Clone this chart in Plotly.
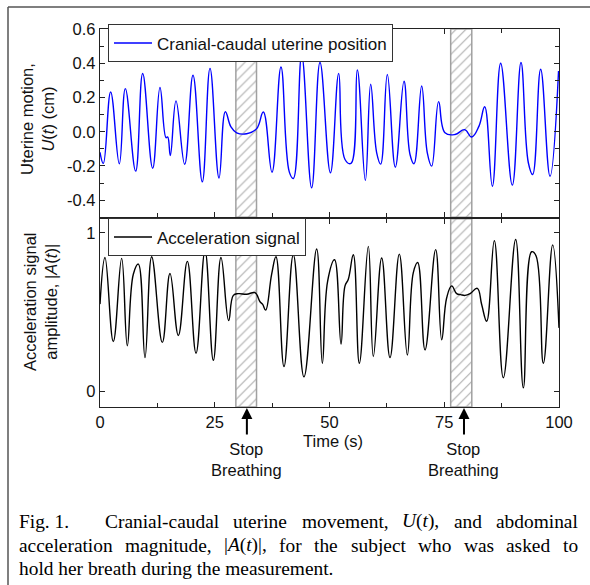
import re
import plotly.graph_objects as go

# uterine position U(t) in cm, read at peaks/troughs
u_time = [0.0, 0.73, 2.32, 4.21, 5.52, 7.77, 9.30, 11.47, 13.07, 14.38, 14.74, 15.32,
          16.56, 18.45, 20.26, 22.29, 23.97, 25.93, 27.31, 28.5, 29.77, 31.95, 34.13,
          35.58, 37.47, 39.43, 41.25, 42.12, 43.94, 46.11, 47.93, 50.2, 52.0, 53.38,
          54.68, 56.06, 57.81, 58.97, 60.28, 61.15, 62.6, 64.34, 66.23, 67.54, 68.41,
          70.08, 71.31, 72.26, 73.78, 75.16, 77.34, 79.45, 80.97, 82.57, 83.81, 85.48,
          87.29, 89.83, 91.72, 93.32, 94.26, 96.0, 98.04, 99.9]
u_value = [-0.12, -0.185, 0.232, -0.187, 0.252, -0.23, 0.34, -0.213, 0.258, -0.035, -0.03, -0.139,
           0.18, -0.19, 0.33, -0.293, 0.37, -0.27, 0.117, 0.03, -0.006, -0.012, 0.018,
           0.115, -0.236, 0.378, -0.236, -0.273, 0.447, -0.328, 0.404, -0.24, 0.341, -0.162,
           -0.185, 0.361, -0.285, 0.277, -0.123, -0.189, 0.334, -0.207, 0.295, -0.133, -0.187,
           0.267, -0.123, -0.201, 0.176, -0.006, -0.016, 0.012, -0.031, 0.033, 0.146, -0.318,
           0.4, -0.312, 0.404, -0.181, -0.25, 0.365, -0.26, 0.355]

# acceleration magnitude |A(t)|
a_time = [0.0, 1.09, 2.9, 4.72, 5.95, 7.26, 8.35, 9.8, 11.26, 13.58, 15.25, 17.07, 19.03,
          20.92, 22.88, 24.69, 26.36, 28.03, 29.05, 30.14, 31.95, 33.77, 34.86, 35.44,
          36.09, 37.4, 38.34, 40.09, 42.12, 44.44, 47.2, 48.44, 49.6, 51.1, 52.51, 53.38,
          54.1, 55.19, 56.5, 58.46, 59.55, 61.37, 63.18, 65.21, 66.96, 68.26, 69.21,
          70.81, 73.13, 74.44, 75.53, 76.62, 77.71, 78.58, 79.52, 80.61, 82.2, 83.15,
          84.24, 85.91, 87.87, 90.56, 92.23, 94.04, 94.99, 96.59, 98.62, 100.0]
a_value = [0.55, 0.845, 0.314, 0.839, 0.287, 0.739, 0.803, 0.212, 0.849, 0.308, 0.743, 0.352, 0.82,
           0.24, 0.887, 0.195, 0.845, 0.446, 0.605, 0.616, 0.612, 0.622, 0.565, 0.548,
           0.512, 0.739, 0.849, 0.155, 0.862, 0.091, 0.898, 0.176, 0.696, 0.83, 0.297, 0.665,
           0.707, 0.862, 0.176, 0.915, 0.219, 0.841, 0.212, 0.866, 0.229, 0.749, 0.813,
           0.261, 0.894, 0.325, 0.59, 0.665, 0.616, 0.61, 0.605, 0.616, 0.65, 0.548,
           0.442, 0.951, 0.085, 0.958, 0.021, 0.881, 0.856, 0.176, 0.924, 0.4]

# breath-hold intervals (s)
stop_start = [29.6, 76.4]
stop_end = [34.1, 81.0]
arrow_time = [32.0, 79.3]

u_range = [-0.5, 0.6]
a_range = [-0.1, 1.09]
u_ticks = [-0.4, -0.2, 0.0, 0.2, 0.4, 0.6]
u_ticktext = ["-0.4", "-0.2", "0.0", "0.2", "0.4", "0.6"]
a_ticks = [0, 1]
x_ticks = [0, 25, 50, 75, 100]

caption_lines = [
    ["Cranial-caudal", "uterine", "movement,", "<i>U</i>(<i>t</i>),", "and", "abdominal"],
    ["acceleration", "magnitude,", "|<i>A</i>(<i>t</i>)|,", "for", "the", "subject", "who", "was", "asked", "to"],
    ["hold her breath during the measurement."],
]

FONT = "Liberation Sans, Arial, sans-serif"
SERIF = "Liberation Serif, Times New Roman, serif"
FS = 16.5
CAP_FS = 19.4

fig = go.Figure()

# hatched breath-hold bands in both panels
for s, e in zip(stop_start, stop_end):
    for ya, rng in (("y", u_range), ("y2", a_range)):
        fig.add_trace(go.Scatter(
            x=[s, e, e, s, s], y=[rng[0], rng[0], rng[1], rng[1], rng[0]],
            xaxis="x" if ya == "y" else "x2", yaxis=ya,
            mode="lines", fill="toself", fillcolor="white",
            fillpattern=dict(shape="/", size=7, solidity=0.15, fgcolor="#555", bgcolor="white"),
            line=dict(color="#a0a0a0", width=1.5),
            showlegend=False, hoverinfo="skip"))

fig.add_trace(go.Scatter(x=u_time, y=u_value, mode="lines", line=dict(color="#0000ff", width=1.4, shape="spline", smoothing=1.2),
                         name="Cranial-caudal uterine position", xaxis="x", yaxis="y", legend="legend"))
fig.add_trace(go.Scatter(x=a_time, y=a_value, mode="lines", line=dict(color="black", width=1.4, shape="spline", smoothing=1.2),
                         name="Acceleration signal", xaxis="x2", yaxis="y2", legend="legend2"))

LW = 1.3
axis_common = dict(showline=True, linecolor="#222", linewidth=LW, mirror="ticks", ticks="inside",
                   ticklen=5, tickwidth=1.2, tickcolor="#222", showgrid=False, zeroline=False,
                   tickfont=dict(family=FONT, size=FS, color="#111"))
minor_x = dict(dtick=12.5, tick0=0, ticks="inside", ticklen=4, tickcolor="#222")
gap = (LW / 2) / 378

fig.update_layout(
    width=590, height=585, paper_bgcolor="white", plot_bgcolor="white",
    margin=dict(l=100, r=31, t=29, b=178),
    font=dict(family=FONT, size=FS, color="#111"),
    xaxis=dict(domain=[0, 1], anchor="y", range=[0, 100], tickvals=x_ticks, showticklabels=False,
               minor=minor_x, matches="x2", **axis_common),
    xaxis2=dict(domain=[0, 1], anchor="y2", range=[0, 100], tickvals=x_ticks, minor=minor_x, **axis_common),
    yaxis=dict(domain=[0.5 + gap, 1], anchor="x", range=u_range, tickvals=u_ticks, ticktext=u_ticktext,
               minor=dict(dtick=0.1, tick0=0, ticks="inside", ticklen=4, tickcolor="#222"), **axis_common),
    yaxis2=dict(domain=[0, 0.5 - gap], anchor="x2", range=a_range, tickvals=a_ticks, **axis_common),
    legend=dict(x=0.0174, y=1.012, xanchor="left", yanchor="top", bgcolor="white", itemwidth=38,
                bordercolor="#333", borderwidth=1, font=dict(family=FONT, size=17)),
    legend2=dict(x=0.0174, y=0.499, xanchor="left", yanchor="top", bgcolor="white", itemwidth=38,
                 bordercolor="#333", borderwidth=1, font=dict(family=FONT, size=17)),
)


def py(v):
    return (407 - v) / 378


def px(v):
    return (v - 100) / 459


ann = []
ann.append(dict(text="Uterine motion,<br><i>U</i>(<i>t</i>) (cm)", xref="paper", yref="paper",
                x=px(37), y=py(119), textangle=-90, showarrow=False, xanchor="center", yanchor="middle",
                font=dict(family=FONT, size=FS)))
ann.append(dict(text="Acceleration signal<br>amplitude, |<i>A</i>(<i>t</i>)|", xref="paper", yref="paper",
                x=px(40), y=py(302), textangle=-90, showarrow=False, xanchor="center", yanchor="middle",
                font=dict(family=FONT, size=FS)))
ann.append(dict(text="Time (s)", xref="x2", yref="paper", x=50.8, y=py(441), showarrow=False,
                xanchor="center", yanchor="middle", font=dict(family=FONT, size=FS)))
for t in arrow_time:
    ann.append(dict(text="", xref="x2", yref="paper", x=t, y=py(408), ax=0, ay=28,
                    showarrow=True, arrowhead=2, arrowsize=1.1, arrowwidth=2, arrowcolor="black"))
    ann.append(dict(text="Stop<br>Breathing", xref="x2", yref="paper", x=t, y=py(438), showarrow=False,
                    xanchor="center", yanchor="top", font=dict(family=FONT, size=FS)))

# caption, justified word by word using Times-like advance widths
TW = {'a': .444, 'b': .5, 'c': .444, 'd': .5, 'e': .444, 'f': .333, 'g': .5, 'h': .5, 'i': .278,
      'j': .278, 'k': .5, 'l': .278, 'm': .778, 'n': .5, 'o': .5, 'p': .5, 'q': .5, 'r': .333,
      's': .389, 't': .278, 'u': .5, 'v': .5, 'w': .722, 'x': .5, 'y': .5, 'z': .444, ' ': .25,
      ',': .25, '.': .25, 'A': .611, 'C': .667, 'F': .556, 'U': .722, '(': .333, ')': .333,
      '|': .2, '-': .333, '1': .5}


def text_w(s):
    plain = re.sub(r"<[^>]+>", "", s)
    return sum(TW.get(c, .5) for c in plain) * CAP_FS


cap_font = dict(family=SERIF, size=CAP_FS, color="black")
cap_y = [521, 545, 568]
ann.append(dict(text="Fig. 1.", xref="paper", yref="paper", x=px(18), y=py(cap_y[0]), xanchor="left",
                yanchor="middle", showarrow=False, font=cap_font, borderpad=0))
spans = [(104, 577), (18, 577), (18, None)]
for words, yv, (x0, x1) in zip(caption_lines, cap_y, spans):
    widths = [text_w(w) for w in words]
    if x1 is None or len(words) == 1:
        sp = 0
    else:
        sp = (x1 - x0 - sum(widths)) / (len(words) - 1)
    xc = x0
    for w, wd in zip(words, widths):
        ann.append(dict(text=w, xref="paper", yref="paper", x=px(xc), y=py(yv), xanchor="left",
                        yanchor="middle", showarrow=False, font=cap_font, borderpad=0))
        xc += wd + sp
fig.update_layout(annotations=ann)

# outer frame lines (top and left)
fig.add_shape(type="line", xref="paper", yref="paper", x0=px(8), x1=px(592), y0=py(7), y1=py(7),
              line=dict(color="#555", width=1.5))
fig.add_shape(type="line", xref="paper", yref="paper", x0=px(8), x1=px(8), y0=py(7), y1=py(590),
              line=dict(color="#555", width=1.5))

fig.write_html("out.html", config={"displayModeBar": False},
               post_script="document.body.style.margin='0';")
